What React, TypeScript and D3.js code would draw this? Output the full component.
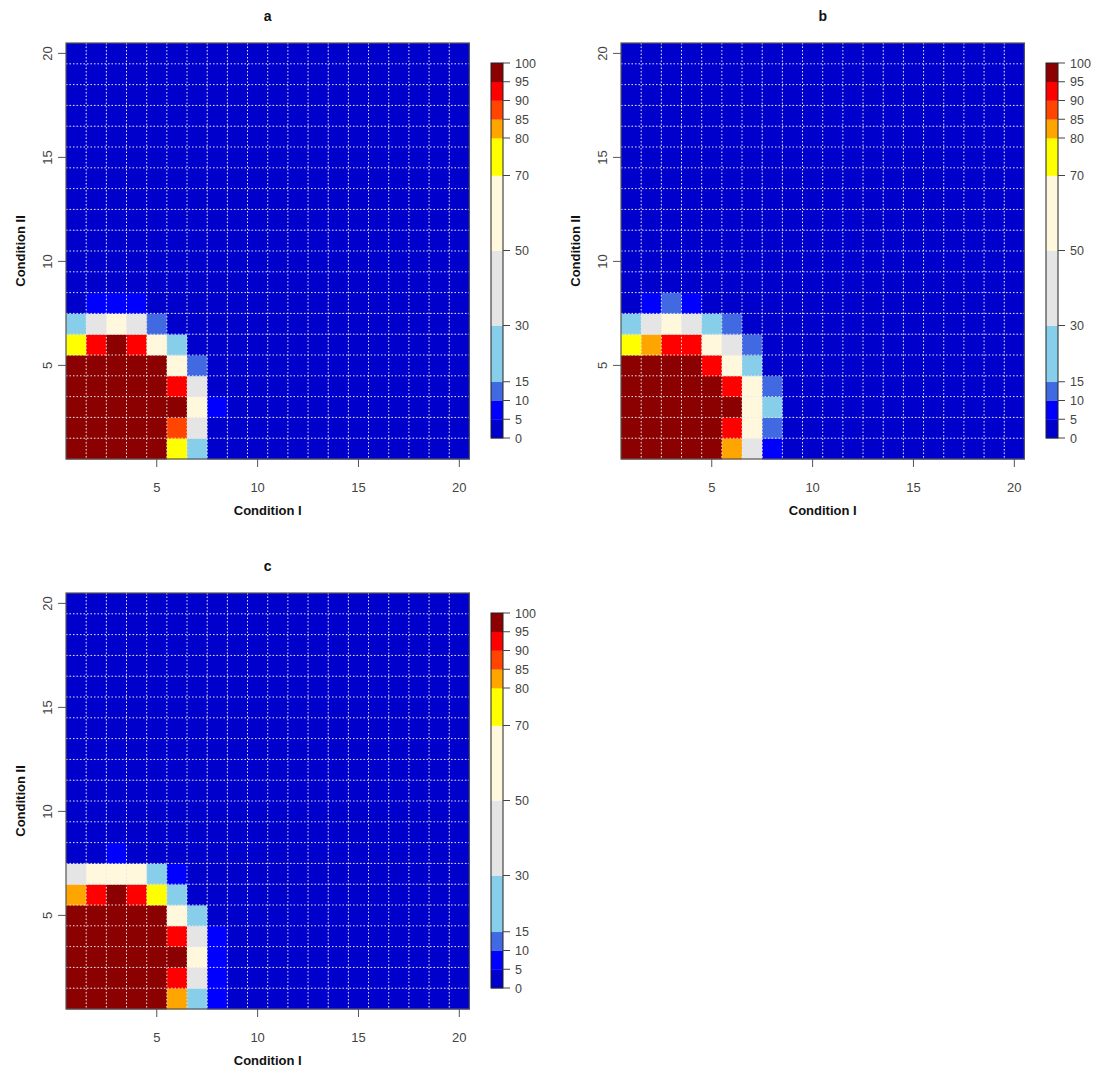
import React from 'react';
import * as d3 from 'd3';

const conditionI = [1, 2, 3, 4, 5, 6, 7, 8, 9, 10, 11, 12, 13, 14, 15, 16, 17, 18, 19, 20];
const conditionII = [1, 2, 3, 4, 5, 6, 7, 8, 9, 10, 11, 12, 13, 14, 15, 16, 17, 18, 19, 20];
const axisTicks = [5, 10, 15, 20];
const legendBreaks = [0, 5, 10, 15, 30, 50, 70, 80, 85, 90, 95, 100];
const legendColors = ['#0000CD', '#0000FF', '#4169E1', '#87CEEB', '#E5E5E5', '#FFF8DC', '#FFFF00', '#FFA500', '#FF4500', '#FF0000', '#8B0000'];

// rows listed from Condition II = 1 (bottom) to 20 (top); columns Condition I = 1..20
const panelA: number[][] = [
  [99, 99, 99, 99, 99, 75, 22, 1, 0, 0, 0, 0, 0, 0, 0, 0, 0, 0, 0, 0],
  [99, 99, 99, 99, 99, 88, 40, 1, 0, 0, 0, 0, 0, 0, 0, 0, 0, 0, 0, 0],
  [99, 99, 99, 99, 99, 97, 60, 7, 0, 0, 0, 0, 0, 0, 0, 0, 0, 0, 0, 0],
  [99, 99, 99, 99, 99, 93, 42, 2, 0, 0, 0, 0, 0, 0, 0, 0, 0, 0, 0, 0],
  [99, 99, 99, 99, 98, 62, 12, 1, 0, 0, 0, 0, 0, 0, 0, 0, 0, 0, 0, 0],
  [76, 93, 97, 92, 58, 24, 2, 0, 0, 0, 0, 0, 0, 0, 0, 0, 0, 0, 0, 0],
  [22, 40, 56, 42, 12, 3, 0, 0, 0, 0, 0, 0, 0, 0, 0, 0, 0, 0, 0, 0],
  [2, 7, 8, 6, 1, 0, 0, 0, 0, 0, 0, 0, 0, 0, 0, 0, 0, 0, 0, 0],
  [0, 0, 0, 0, 0, 0, 0, 0, 0, 0, 0, 0, 0, 0, 0, 0, 0, 0, 0, 0],
  [0, 0, 0, 0, 0, 0, 0, 0, 0, 0, 0, 0, 0, 0, 0, 0, 0, 0, 0, 0],
  [0, 0, 0, 0, 0, 0, 0, 0, 0, 0, 0, 0, 0, 0, 0, 0, 0, 0, 0, 0],
  [0, 0, 0, 0, 0, 0, 0, 0, 0, 0, 0, 0, 0, 0, 0, 0, 0, 0, 0, 0],
  [0, 0, 0, 0, 0, 0, 0, 0, 0, 0, 0, 0, 0, 0, 0, 0, 0, 0, 0, 0],
  [0, 0, 0, 0, 0, 0, 0, 0, 0, 0, 0, 0, 0, 0, 0, 0, 0, 0, 0, 0],
  [0, 0, 0, 0, 0, 0, 0, 0, 0, 0, 0, 0, 0, 0, 0, 0, 0, 0, 0, 0],
  [0, 0, 0, 0, 0, 0, 0, 0, 0, 0, 0, 0, 0, 0, 0, 0, 0, 0, 0, 0],
  [0, 0, 0, 0, 0, 0, 0, 0, 0, 0, 0, 0, 0, 0, 0, 0, 0, 0, 0, 0],
  [0, 0, 0, 0, 0, 0, 0, 0, 0, 0, 0, 0, 0, 0, 0, 0, 0, 0, 0, 0],
  [0, 0, 0, 0, 0, 0, 0, 0, 0, 0, 0, 0, 0, 0, 0, 0, 0, 0, 0, 0],
  [0, 0, 0, 0, 0, 0, 0, 0, 0, 0, 0, 0, 0, 0, 0, 0, 0, 0, 0, 0],
];

const panelB: number[][] = [
  [99, 99, 99, 99, 99, 82, 40, 7, 0, 0, 0, 0, 0, 0, 0, 0, 0, 0, 0, 0],
  [99, 99, 99, 99, 99, 93, 60, 12, 0, 0, 0, 0, 0, 0, 0, 0, 0, 0, 0, 0],
  [99, 99, 99, 99, 99, 97, 62, 22, 0, 0, 0, 0, 0, 0, 0, 0, 0, 0, 0, 0],
  [99, 99, 99, 99, 99, 92, 58, 12, 1, 0, 0, 0, 0, 0, 0, 0, 0, 0, 0, 0],
  [99, 99, 99, 99, 93, 60, 22, 2, 0, 0, 0, 0, 0, 0, 0, 0, 0, 0, 0, 0],
  [76, 82, 92, 91, 58, 40, 12, 1, 0, 0, 0, 0, 0, 0, 0, 0, 0, 0, 0, 0],
  [22, 40, 56, 42, 20, 12, 2, 0, 0, 0, 0, 0, 0, 0, 0, 0, 0, 0, 0, 0],
  [2, 7, 12, 7, 1, 0, 0, 0, 0, 0, 0, 0, 0, 0, 0, 0, 0, 0, 0, 0],
  [0, 0, 0, 0, 0, 0, 0, 0, 0, 0, 0, 0, 0, 0, 0, 0, 0, 0, 0, 0],
  [0, 0, 0, 0, 0, 0, 0, 0, 0, 0, 0, 0, 0, 0, 0, 0, 0, 0, 0, 0],
  [0, 0, 0, 0, 0, 0, 0, 0, 0, 0, 0, 0, 0, 0, 0, 0, 0, 0, 0, 0],
  [0, 0, 0, 0, 0, 0, 0, 0, 0, 0, 0, 0, 0, 0, 0, 0, 0, 0, 0, 0],
  [0, 0, 0, 0, 0, 0, 0, 0, 0, 0, 0, 0, 0, 0, 0, 0, 0, 0, 0, 0],
  [0, 0, 0, 0, 0, 0, 0, 0, 0, 0, 0, 0, 0, 0, 0, 0, 0, 0, 0, 0],
  [0, 0, 0, 0, 0, 0, 0, 0, 0, 0, 0, 0, 0, 0, 0, 0, 0, 0, 0, 0],
  [0, 0, 0, 0, 0, 0, 0, 0, 0, 0, 0, 0, 0, 0, 0, 0, 0, 0, 0, 0],
  [0, 0, 0, 0, 0, 0, 0, 0, 0, 0, 0, 0, 0, 0, 0, 0, 0, 0, 0, 0],
  [0, 0, 0, 0, 0, 0, 0, 0, 0, 0, 0, 0, 0, 0, 0, 0, 0, 0, 0, 0],
  [0, 0, 0, 0, 0, 0, 0, 0, 0, 0, 0, 0, 0, 0, 0, 0, 0, 0, 0, 0],
  [0, 0, 0, 0, 0, 0, 0, 0, 0, 0, 0, 0, 0, 0, 0, 0, 0, 0, 0, 0],
];

const panelC: number[][] = [
  [99, 99, 99, 99, 99, 82, 22, 7, 0, 0, 0, 0, 0, 0, 0, 0, 0, 0, 0, 0],
  [99, 99, 99, 99, 99, 93, 42, 7, 0, 0, 0, 0, 0, 0, 0, 0, 0, 0, 0, 0],
  [99, 99, 99, 99, 99, 97, 60, 7, 0, 0, 0, 0, 0, 0, 0, 0, 0, 0, 0, 0],
  [99, 99, 99, 99, 99, 92, 40, 6, 0, 0, 0, 0, 0, 0, 0, 0, 0, 0, 0, 0],
  [99, 99, 99, 99, 99, 58, 22, 2, 0, 0, 0, 0, 0, 0, 0, 0, 0, 0, 0, 0],
  [82, 93, 97, 92, 76, 22, 2, 0, 0, 0, 0, 0, 0, 0, 0, 0, 0, 0, 0, 0],
  [40, 58, 60, 58, 22, 7, 1, 0, 0, 0, 0, 0, 0, 0, 0, 0, 0, 0, 0, 0],
  [2, 3, 7, 3, 1, 0, 0, 0, 0, 0, 0, 0, 0, 0, 0, 0, 0, 0, 0, 0],
  [0, 0, 0, 0, 0, 0, 0, 0, 0, 0, 0, 0, 0, 0, 0, 0, 0, 0, 0, 0],
  [0, 0, 0, 0, 0, 0, 0, 0, 0, 0, 0, 0, 0, 0, 0, 0, 0, 0, 0, 0],
  [0, 0, 0, 0, 0, 0, 0, 0, 0, 0, 0, 0, 0, 0, 0, 0, 0, 0, 0, 0],
  [0, 0, 0, 0, 0, 0, 0, 0, 0, 0, 0, 0, 0, 0, 0, 0, 0, 0, 0, 0],
  [0, 0, 0, 0, 0, 0, 0, 0, 0, 0, 0, 0, 0, 0, 0, 0, 0, 0, 0, 0],
  [0, 0, 0, 0, 0, 0, 0, 0, 0, 0, 0, 0, 0, 0, 0, 0, 0, 0, 0, 0],
  [0, 0, 0, 0, 0, 0, 0, 0, 0, 0, 0, 0, 0, 0, 0, 0, 0, 0, 0, 0],
  [0, 0, 0, 0, 0, 0, 0, 0, 0, 0, 0, 0, 0, 0, 0, 0, 0, 0, 0, 0],
  [0, 0, 0, 0, 0, 0, 0, 0, 0, 0, 0, 0, 0, 0, 0, 0, 0, 0, 0, 0],
  [0, 0, 0, 0, 0, 0, 0, 0, 0, 0, 0, 0, 0, 0, 0, 0, 0, 0, 0, 0],
  [0, 0, 0, 0, 0, 0, 0, 0, 0, 0, 0, 0, 0, 0, 0, 0, 0, 0, 0, 0],
  [0, 0, 0, 0, 0, 0, 0, 0, 0, 0, 0, 0, 0, 0, 0, 0, 0, 0, 0, 0],
];

const colorScale = d3
  .scaleThreshold<number, string>()
  .domain(legendBreaks.slice(1, -1))
  .range(legendColors);

const FONT = 'Liberation Sans, Arial, sans-serif';
const PW = 403.4;
const PH = 416;

function Panel({ data, title, left, top }: { data: number[][]; title: string; left: number; top: number }) {
  const bottom = top + PH;
  const x = d3.scaleLinear().domain([0.5, 20.5]).range([left, left + PW]);
  const y = d3.scaleLinear().domain([0.5, 20.5]).range([bottom, top]);
  const cw = x(1.5) - x(0.5);
  const ch = y(0.5) - y(1.5);
  const legX = left + 425;
  const legW = 12;
  const ly = d3.scaleLinear().domain([0, 100]).range([bottom - 21, top + 20]);
  const gridPos = d3.range(1.5, 20, 1);
  return (
    <g>
      <text x={x(10.5)} y={top - 22} textAnchor="middle" fontFamily={FONT} fontWeight="bold" fontSize={14} fill="#111">
        {title}
      </text>
      {data.map((row, ri) =>
        row.map((v, ci) => (
          <rect
            key={`${ri}-${ci}`}
            x={x(conditionI[ci] - 0.5)}
            y={y(conditionII[ri] + 0.5)}
            width={cw + 0.4}
            height={ch + 0.4}
            fill={colorScale(v)}
          />
        ))
      )}
      {gridPos.map((g) => (
        <line key={`vx${g}`} x1={x(g)} x2={x(g)} y1={top} y2={bottom} stroke="#e8e8e8" strokeWidth={1} strokeDasharray="1.5 2" />
      ))}
      {gridPos.map((g) => (
        <line key={`hy${g}`} x1={left} x2={left + PW} y1={y(g)} y2={y(g)} stroke="#e8e8e8" strokeWidth={1} strokeDasharray="1.5 2" />
      ))}
      <rect x={left} y={top} width={PW} height={PH} fill="none" stroke="#555" strokeWidth={1.2} />
      {axisTicks.map((t) => (
        <g key={`xt${t}`}>
          <line x1={x(t)} x2={x(t)} y1={bottom} y2={bottom + 8} stroke="#555" />
          <text x={x(t)} y={bottom + 33} textAnchor="middle" fontFamily={FONT} fontSize={13} fill="#444">
            {t}
          </text>
        </g>
      ))}
      {axisTicks.map((t) => (
        <g key={`yt${t}`}>
          <line x1={left} x2={left - 8} y1={y(t)} y2={y(t)} stroke="#555" />
          <text
            transform={`translate(${left - 14},${y(t)}) rotate(-90)`}
            textAnchor="middle"
            fontFamily={FONT}
            fontSize={13}
            fill="#444"
          >
            {t}
          </text>
        </g>
      ))}
      <text x={x(10.5)} y={bottom + 56} textAnchor="middle" fontFamily={FONT} fontWeight="bold" fontSize={13} fill="#111">
        Condition I
      </text>
      <text
        transform={`translate(${left - 41},${y(10.5)}) rotate(-90)`}
        textAnchor="middle"
        fontFamily={FONT}
        fontWeight="bold"
        fontSize={13}
        fill="#111"
      >
        Condition II
      </text>
      {legendColors.map((c, i) => (
        <rect
          key={`lg${i}`}
          x={legX}
          y={ly(legendBreaks[i + 1])}
          width={legW}
          height={ly(legendBreaks[i]) - ly(legendBreaks[i + 1]) + 0.3}
          fill={c}
        />
      ))}
      <rect x={legX} y={ly(100)} width={legW} height={ly(0) - ly(100)} fill="none" stroke="#222" strokeWidth={1} />
      {legendBreaks.map((b) => (
        <g key={`lb${b}`}>
          <line x1={legX + legW} x2={legX + legW + 7} y1={ly(b)} y2={ly(b)} stroke="#444" />
          <text x={legX + 24} y={ly(b) + 4.5} fontFamily={FONT} fontSize={12.5} fill="#444">
            {b}
          </text>
        </g>
      ))}
    </g>
  );
}

export default function App() {
  return (
    <svg
      width={1100}
      height={1070}
      style={{ position: 'absolute', left: 0, top: 0, background: '#fff' }}
    >
      <rect width={1100} height={1070} fill="#fff" />
      <Panel data={panelA} title="a" left={66} top={43} />
      <Panel data={panelB} title="b" left={621} top={43} />
      <Panel data={panelC} title="c" left={66} top={593} />
    </svg>
  );
}
